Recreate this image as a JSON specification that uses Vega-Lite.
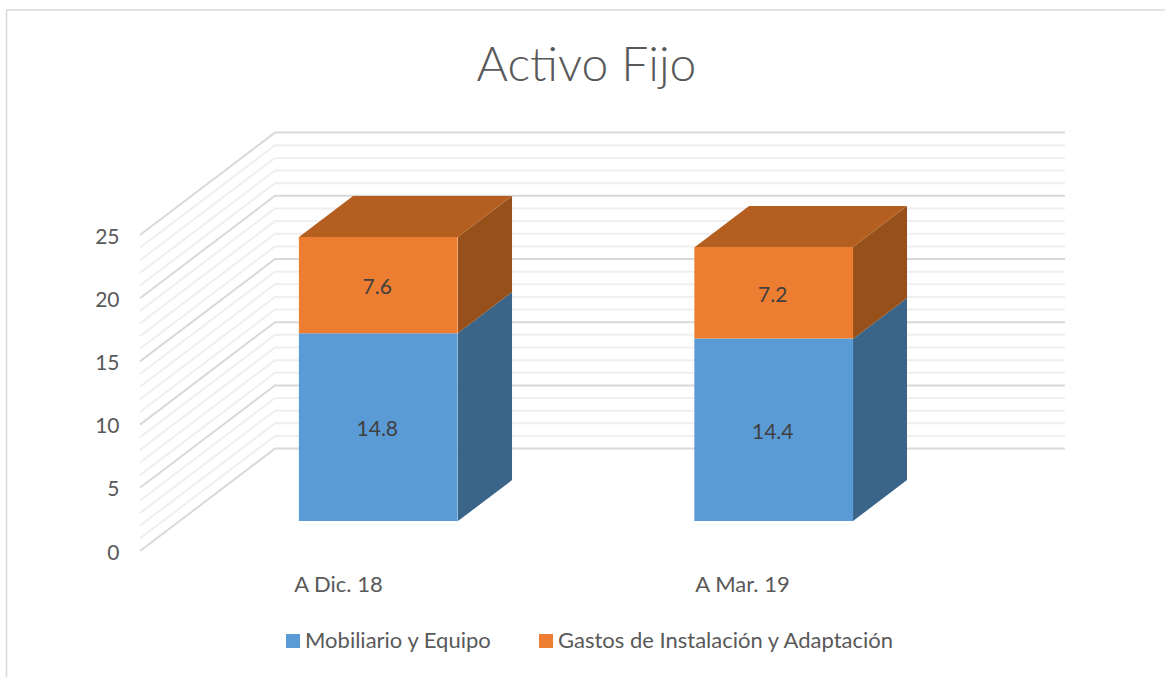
{
"$schema":"https://vega.github.io/schema/vega-lite/v6.json",
"width":1165,"height":677,"padding":0,"autosize":{"type":"none"},"background":"white",
"config":{"view":{"stroke":null},"font":"Lato"},
"title":{"text":"Activo Fijo","font":"Lato","fontWeight":300,"fontSize":48,"color":"#595959","anchor":"middle","offset":-91,"dx":4},
"datasets":{
"marco":[{"pos":-14.43,"alt":-9.97},{"pos":-14.43,"alt":42.8},{"pos":110.8,"alt":42.8}],
"menor":[
{"nivel":1,"pos":0,"alt":1},{"nivel":1,"pos":14.59,"alt":9.1},{"nivel":1,"pos":100,"alt":9.1},
{"nivel":2,"pos":0,"alt":2},{"nivel":2,"pos":14.59,"alt":10.1},{"nivel":2,"pos":100,"alt":10.1},
{"nivel":3,"pos":0,"alt":3},{"nivel":3,"pos":14.59,"alt":11.1},{"nivel":3,"pos":100,"alt":11.1},
{"nivel":4,"pos":0,"alt":4},{"nivel":4,"pos":14.59,"alt":12.1},{"nivel":4,"pos":100,"alt":12.1},
{"nivel":6,"pos":0,"alt":6},{"nivel":6,"pos":14.59,"alt":14.1},{"nivel":6,"pos":100,"alt":14.1},
{"nivel":7,"pos":0,"alt":7},{"nivel":7,"pos":14.59,"alt":15.1},{"nivel":7,"pos":100,"alt":15.1},
{"nivel":8,"pos":0,"alt":8},{"nivel":8,"pos":14.59,"alt":16.1},{"nivel":8,"pos":100,"alt":16.1},
{"nivel":9,"pos":0,"alt":9},{"nivel":9,"pos":14.59,"alt":17.1},{"nivel":9,"pos":100,"alt":17.1},
{"nivel":11,"pos":0,"alt":11},{"nivel":11,"pos":14.59,"alt":19.1},{"nivel":11,"pos":100,"alt":19.1},
{"nivel":12,"pos":0,"alt":12},{"nivel":12,"pos":14.59,"alt":20.1},{"nivel":12,"pos":100,"alt":20.1},
{"nivel":13,"pos":0,"alt":13},{"nivel":13,"pos":14.59,"alt":21.1},{"nivel":13,"pos":100,"alt":21.1},
{"nivel":14,"pos":0,"alt":14},{"nivel":14,"pos":14.59,"alt":22.1},{"nivel":14,"pos":100,"alt":22.1},
{"nivel":16,"pos":0,"alt":16},{"nivel":16,"pos":14.59,"alt":24.1},{"nivel":16,"pos":100,"alt":24.1},
{"nivel":17,"pos":0,"alt":17},{"nivel":17,"pos":14.59,"alt":25.1},{"nivel":17,"pos":100,"alt":25.1},
{"nivel":18,"pos":0,"alt":18},{"nivel":18,"pos":14.59,"alt":26.1},{"nivel":18,"pos":100,"alt":26.1},
{"nivel":19,"pos":0,"alt":19},{"nivel":19,"pos":14.59,"alt":27.1},{"nivel":19,"pos":100,"alt":27.1},
{"nivel":21,"pos":0,"alt":21},{"nivel":21,"pos":14.59,"alt":29.1},{"nivel":21,"pos":100,"alt":29.1},
{"nivel":22,"pos":0,"alt":22},{"nivel":22,"pos":14.59,"alt":30.1},{"nivel":22,"pos":100,"alt":30.1},
{"nivel":23,"pos":0,"alt":23},{"nivel":23,"pos":14.59,"alt":31.1},{"nivel":23,"pos":100,"alt":31.1},
{"nivel":24,"pos":0,"alt":24},{"nivel":24,"pos":14.59,"alt":32.1},{"nivel":24,"pos":100,"alt":32.1}],
"mayor":[
{"nivel":0,"pos":0,"alt":0},{"nivel":0,"pos":14.59,"alt":8.1},{"nivel":0,"pos":100,"alt":8.1},
{"nivel":5,"pos":0,"alt":5},{"nivel":5,"pos":14.59,"alt":13.1},{"nivel":5,"pos":100,"alt":13.1},
{"nivel":10,"pos":0,"alt":10},{"nivel":10,"pos":14.59,"alt":18.1},{"nivel":10,"pos":100,"alt":18.1},
{"nivel":15,"pos":0,"alt":15},{"nivel":15,"pos":14.59,"alt":23.1},{"nivel":15,"pos":100,"alt":23.1},
{"nivel":20,"pos":0,"alt":20},{"nivel":20,"pos":14.59,"alt":28.1},{"nivel":20,"pos":100,"alt":28.1},
{"nivel":25,"pos":0,"alt":25},{"nivel":25,"pos":14.59,"alt":33.1},{"nivel":25,"pos":100,"alt":33.1}],
"lateral":[
{"cara":"D1","serie":"Mobiliario y Equipo","pos":34.38,"a0":2.37,"a1":17.25},
{"cara":"D1","serie":"Mobiliario y Equipo","pos":40.22,"a0":5.61,"a1":20.49},
{"cara":"D2","serie":"Gastos de Instalación y Adaptación","pos":34.38,"a0":17.25,"a1":24.84},
{"cara":"D2","serie":"Gastos de Instalación y Adaptación","pos":40.22,"a0":20.49,"a1":28.08},
{"cara":"M1","serie":"Mobiliario y Equipo","pos":77.08,"a0":2.37,"a1":16.77},
{"cara":"M1","serie":"Mobiliario y Equipo","pos":82.92,"a0":5.61,"a1":20.01},
{"cara":"M2","serie":"Gastos de Instalación y Adaptación","pos":77.08,"a0":16.77,"a1":24.05},
{"cara":"M2","serie":"Gastos de Instalación y Adaptación","pos":82.92,"a0":20.01,"a1":27.29}],
"tapa":[
{"cara":"D","alt":24.84,"p0":17.19,"p1":34.38},
{"cara":"D","alt":28.08,"p0":23.03,"p1":40.22},
{"cara":"M","alt":24.05,"p0":60,"p1":77.08},
{"cara":"M","alt":27.29,"p0":65.84,"p1":82.92}],
"barras":[
{"periodo":"A Dic. 18","serie":"Mobiliario y Equipo","valor":14.8},
{"periodo":"A Dic. 18","serie":"Gastos de Instalación y Adaptación","valor":7.6},
{"periodo":"A Mar. 19","serie":"Mobiliario y Equipo","valor":14.4},
{"periodo":"A Mar. 19","serie":"Gastos de Instalación y Adaptación","valor":7.2}]
},
"resolve":{"scale":{"x":"independent","y":"independent","color":"independent"},"axis":{"x":"independent","y":"independent"}},
"layer":[
{"data":{"name":"marco"},"mark":{"type":"line","stroke":"#d9d9d9","strokeWidth":1.5,"clip":false},
 "encoding":{"x":{"field":"pos","type":"quantitative","scale":{"domain":[0,100],"range":[140,1065],"nice":false,"zero":false},"axis":null},
 "y":{"field":"alt","type":"quantitative","scale":{"domain":[0,25],"range":[551,235],"nice":false,"zero":false},"axis":null},
 "order":{"field":"alt"}}},
{"data":{"name":"menor"},"mark":{"type":"line","stroke":"#efefef","strokeWidth":2},
 "encoding":{"x":{"field":"pos","type":"quantitative","scale":{"domain":[0,100],"range":[140,1065],"nice":false,"zero":false},"axis":null},
 "y":{"field":"alt","type":"quantitative","scale":{"domain":[0,25],"range":[551,235],"nice":false,"zero":false},"axis":null},
 "detail":{"field":"nivel"}}},
{"data":{"name":"mayor"},"mark":{"type":"line","stroke":"#d9d9d9","strokeWidth":2},
 "encoding":{"x":{"field":"pos","type":"quantitative","scale":{"domain":[0,100],"range":[140,1065],"nice":false,"zero":false},"axis":null},
 "y":{"field":"alt","type":"quantitative","scale":{"domain":[0,25],"range":[551,235],"nice":false,"zero":false},
  "axis":{"values":[0,5,10,15,20,25],"orient":"left","offset":-119,"domain":false,"ticks":false,"grid":false,"title":null,"labelPadding":0,"labelOffset":2,"labelFont":"Lato","labelFontSize":21,"labelColor":"#595959"}},
 "detail":{"field":"nivel"}}},
{"data":{"name":"lateral"},"mark":{"type":"area"},
 "encoding":{"x":{"field":"pos","type":"quantitative","scale":{"domain":[0,100],"range":[140,1065],"nice":false,"zero":false},"axis":null},
 "y":{"field":"a0","type":"quantitative","scale":{"domain":[0,25],"range":[551,235],"nice":false,"zero":false},"axis":null},
 "y2":{"field":"a1"},
 "detail":{"field":"cara"},
 "color":{"field":"serie","type":"nominal","legend":null,"scale":{"domain":["Mobiliario y Equipo","Gastos de Instalación y Adaptación"],"range":["#3a6488","#975019"]}}}},
{"data":{"name":"tapa"},"mark":{"type":"area","orient":"horizontal","color":"#b45f20"},
 "encoding":{"y":{"field":"alt","type":"quantitative","scale":{"domain":[0,25],"range":[551,235],"nice":false,"zero":false},"axis":null},
 "x":{"field":"p0","type":"quantitative","scale":{"domain":[0,100],"range":[140,1065],"nice":false,"zero":false},"axis":null},
 "x2":{"field":"p1"},
 "detail":{"field":"cara"}}},
{"data":{"name":"barras"},"mark":{"type":"bar"},
 "encoding":{"x":{"field":"periodo","type":"nominal","axis":null,"scale":{"type":"band","range":[219.8,932.2],"paddingInner":0.5985,"paddingOuter":0.2,"round":false}},
 "y":{"field":"valor","type":"quantitative","stack":"zero","axis":null,"scale":{"domain":[0,25],"range":[521,204],"nice":false}},
 "color":{"field":"serie","type":"nominal","scale":{"domain":["Mobiliario y Equipo","Gastos de Instalación y Adaptación"],"range":["#5b9bd5","#ed7d31"]},
  "legend":{"orient":"none","legendX":282,"legendY":630,"direction":"horizontal","title":null,"symbolType":"square","symbolSize":196,"symbolStrokeWidth":0,"labelFont":"Lato","labelFontSize":22,"labelColor":"#595959","labelOffset":1,"labelLimit":400,"columnPadding":43}}}},
{"data":{"name":"barras"},"mark":{"type":"text","font":"Lato","fontSize":21,"color":"#404040","dy":3},
 "encoding":{"x":{"field":"periodo","type":"nominal","axis":null,"scale":{"type":"band","range":[218.8,931.2],"paddingInner":0.5985,"paddingOuter":0.2,"round":false}},
 "y":{"field":"valor","type":"quantitative","stack":"zero","bandPosition":0.5,"axis":null,"scale":{"domain":[0,25],"range":[521,204],"nice":false}},
 "detail":{"field":"serie"},
 "text":{"field":"valor","type":"quantitative","format":".1f"}}},
{"data":{"name":"barras"},"mark":{"type":"point","opacity":0},
 "encoding":{"x":{"field":"periodo","type":"nominal","scale":{"type":"point","range":[338,742],"padding":0},
  "axis":{"orient":"bottom","offset":-93,"domain":false,"ticks":false,"grid":false,"title":null,"labelAngle":0,"labelPadding":0,"labelBaseline":"middle","labelFont":"Lato","labelFontSize":22,"labelColor":"#595959"}}}}
]
}
